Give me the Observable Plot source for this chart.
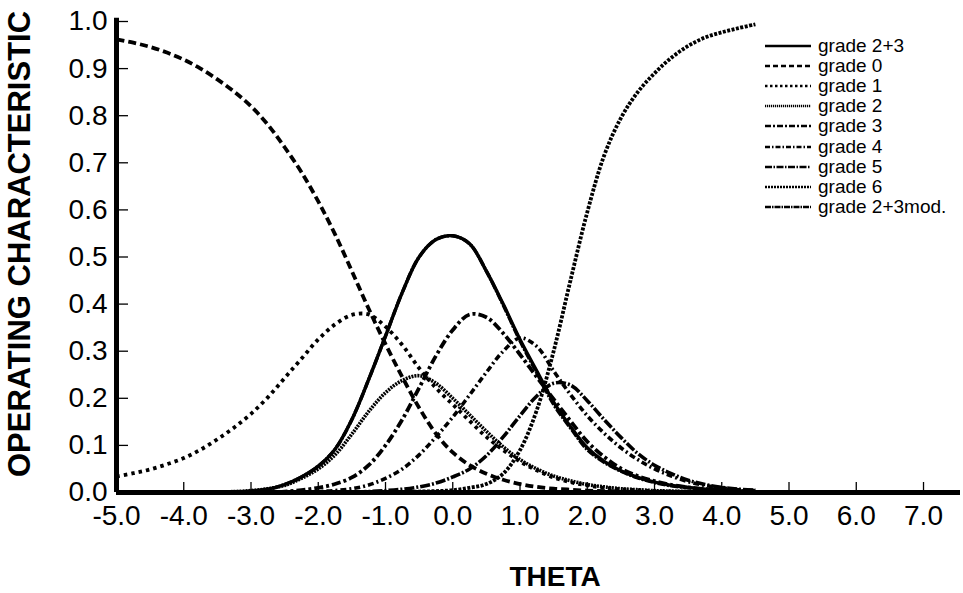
<!DOCTYPE html>
<html>
<head>
<meta charset="utf-8">
<script src="https://cdn.jsdelivr.net/npm/d3@7"></script>
<script src="https://cdn.jsdelivr.net/npm/@observablehq/plot@0.6"></script>
<style>
  body { margin: 0; background: #fff; }
  #wrap { position: relative; width: 963px; height: 593px; font-family: "Liberation Sans", Arial, Helvetica, sans-serif; }
  #ytitle { position: absolute; left: 20px; top: 244px; transform: translate(-50%, -50%) rotate(-90deg); white-space: nowrap; font-weight: bold; font-size: 31px; color: #000; }
  #xtitle { position: absolute; left: 555px; top: 577px; transform: translate(-50%, -50%); white-space: nowrap; font-weight: bold; font-size: 28px; color: #000; }
  #legend { position: absolute; left: 765px; top: 36px; }
  .row { display: flex; align-items: center; height: 20.1px; }
  .row svg { width: 47px; height: 20px; margin-right: 6px; }
  .row span { font-size: 19px; line-height: 20px; color: #000; white-space: nowrap; }
</style>
</head>
<body>
<div id="wrap">
  <div id="chart"></div>
  <div id="ytitle">OPERATING CHARACTERISTIC</div>
  <div id="xtitle">THETA</div>
  <div id="legend"></div>
</div>
<script>
// ---- data ----
const theta = [-5,-4.75,-4.5,-4.25,-4,-3.75,-3.5,-3.25,-3,-2.75,-2.5,-2.25,-2,-1.75,-1.5,-1.25,-1,-0.75,-0.5,-0.25,0,0.25,0.5,0.75,1,1.25,1.5,1.75,2,2.25,2.5,2.75,3,3.25,3.5,3.75,4,4.25,4.5];

const grade23 = [0,0,0,0,0,0,0,0.001,0.003,0.007,0.017,0.033,0.056,0.092,0.155,0.24,0.332,0.425,0.5,0.537,0.545,0.528,0.47,0.4,0.325,0.258,0.192,0.14,0.095,0.066,0.046,0.032,0.022,0.015,0.011,0.007,0.005,0.003,0.002];
const grade0 = [0.962,0.955,0.946,0.934,0.919,0.9,0.877,0.851,0.82,0.781,0.733,0.68,0.618,0.548,0.47,0.39,0.315,0.245,0.18,0.125,0.085,0.058,0.04,0.027,0.018,0.012,0.008,0.006,0.004,0.003,0.002,0.0015,0.001,0.0008,0.0005,0.0003,0.0002,0.0001,0.0001];
const grade1 = [0.034,0.041,0.049,0.06,0.073,0.091,0.113,0.138,0.167,0.202,0.243,0.284,0.325,0.357,0.377,0.378,0.352,0.313,0.264,0.222,0.187,0.152,0.118,0.09,0.066,0.047,0.032,0.022,0.015,0.01,0.007,0.005,0.003,0.002,0.0015,0.001,0.0007,0.0005,0.0003];
const grade2 = [0,0,0,0,0,0.0005,0.001,0.002,0.004,0.008,0.015,0.03,0.05,0.08,0.124,0.172,0.212,0.238,0.248,0.232,0.2,0.165,0.13,0.097,0.07,0.05,0.035,0.025,0.017,0.012,0.008,0.006,0.004,0.003,0.002,0.0015,0.001,0.0007,0.0005];
const grade3 = [0,0,0,0,0,0,0,0,0,0.001,0.002,0.005,0.01,0.018,0.032,0.058,0.1,0.155,0.222,0.29,0.345,0.378,0.372,0.338,0.293,0.245,0.198,0.152,0.108,0.076,0.051,0.035,0.024,0.016,0.011,0.007,0.005,0.003,0.002];
const grade4 = [0,0,0,0,0,0,0,0,0,0,0,0,0.002,0.004,0.008,0.016,0.03,0.05,0.08,0.118,0.16,0.207,0.255,0.3,0.328,0.31,0.258,0.208,0.163,0.126,0.095,0.07,0.05,0.035,0.023,0.015,0.01,0.006,0.004];
const grade5 = [0,0,0,0,0,0,0,0,0,0,0,0,0,0,0.001,0.002,0.004,0.007,0.012,0.02,0.033,0.05,0.078,0.118,0.163,0.205,0.232,0.228,0.195,0.155,0.117,0.083,0.058,0.04,0.026,0.017,0.011,0.007,0.005];
const grade6 = [0,0,0,0,0,0,0,0,0,0,0,0,0,0,0,0,0.001,0.001,0.002,0.003,0.005,0.01,0.018,0.04,0.09,0.175,0.3,0.45,0.595,0.715,0.795,0.85,0.89,0.923,0.948,0.966,0.977,0.986,0.994];
const grade23mod = [0,0,0,0,0,0,0,0.001,0.003,0.007,0.017,0.033,0.056,0.092,0.155,0.24,0.332,0.425,0.5,0.537,0.545,0.528,0.47,0.398,0.322,0.254,0.187,0.137,0.091,0.064,0.045,0.031,0.021,0.014,0.01,0.007,0.005,0.003,0.002];

const seriesNames = ["grade 2+3","grade 0","grade 1","grade 2","grade 3","grade 4","grade 5","grade 6","grade 2+3mod."];
const seriesValues = [grade23, grade0, grade1, grade2, grade3, grade4, grade5, grade6, grade23mod];

const xTicks = [-5,-4,-3,-2,-1,0,1,2,3,4,5,6,7];
const yTicks = [0,0.1,0.2,0.3,0.4,0.5,0.6,0.7,0.8,0.9,1.0];

// ---- styles ----
const styles = [
  {w: 3.4, dash: null,            ldash: null},
  {w: 3.8, dash: "8 4",           ldash: "5 3"},
  {w: 3.8, dash: "3.5 4",         ldash: "2.5 2.5"},
  {w: 3.6, dash: "2 1",           ldash: "1.2 0.8"},
  {w: 3.8, dash: "9 3 3 3",       ldash: "6 2 2 2"},
  {w: 3.6, dash: "6 3 2 3",       ldash: "5 2 1.5 2"},
  {w: 3.6, dash: "10 2 2 2",      ldash: "7 1.5 1.5 1.5"},
  {w: 3.8, dash: "3 1.5",         ldash: "2 1"},
  {w: 3.4, dash: "8 1.5 2 1.5",   ldash: "6 1 1.5 1"}
];

const W = 963, H = 593, ML = 116, MR = 3, MT = 21, MB = 101;
const frameW = W - ML - MR, frameH = H - MT - MB;

const lineMarks = [];
const order = [1,2,3,4,5,6,7,0,8];
for (const i of order) {
  const data = theta.map((t, k) => ({theta: t, value: seriesValues[i][k]}));
  lineMarks.push(Plot.line(data, {
    x: "theta", y: "value", stroke: "#000",
    strokeWidth: styles[i].w,
    strokeDasharray: styles[i].dash,
    strokeLinecap: "butt",
    curve: "catmull-rom"
  }));
}

const fmt = d => d.toFixed(1);
const chart = Plot.plot({
  width: W,
  height: H,
  marginLeft: ML,
  marginRight: MR,
  marginTop: MT,
  marginBottom: MB,
  style: {fontFamily: "'Liberation Sans', Arial, Helvetica, sans-serif", background: "#fff", color: "#000"},
  x: {domain: [-5, 7.55]},
  y: {domain: [0, 1]},
  marks: [
    ...lineMarks,
    Plot.axisY({ticks: yTicks, tickSize: 0, tickPadding: 9, tickFormat: fmt, fontSize: 28, label: null}),
    Plot.axisX({ticks: xTicks, tickSize: 0, tickPadding: 13, tickFormat: fmt, fontSize: 28, label: null}),
    // inward ticks
    Plot.tickY(yTicks, {y: d => d, stroke: "#000", strokeWidth: 1.3, insetRight: frameW - 12}),
    Plot.tickX(xTicks.slice(1), {x: d => d, stroke: "#000", strokeWidth: 1.3, insetTop: frameH - 10}),
    Plot.ruleY([0], {stroke: "#000", strokeWidth: 5}),
    Plot.ruleX([-5], {stroke: "#000", strokeWidth: 5, y1: 0, y2: 1.007})
  ]
});
document.getElementById("chart").appendChild(chart);

// ---- legend ----
const legend = document.getElementById("legend");
seriesNames.forEach((name, i) => {
  const row = document.createElement("div");
  row.className = "row";
  const s = styles[i];
  row.innerHTML = `<svg viewBox="0 0 47 20"><line x1="0" y1="10" x2="46" y2="10" stroke="#000" stroke-width="2.4" ${s.ldash ? `stroke-dasharray="${s.ldash}"` : ""}/></svg><span>${name}</span>`;
  legend.appendChild(row);
});
</script>
</body>
</html>
